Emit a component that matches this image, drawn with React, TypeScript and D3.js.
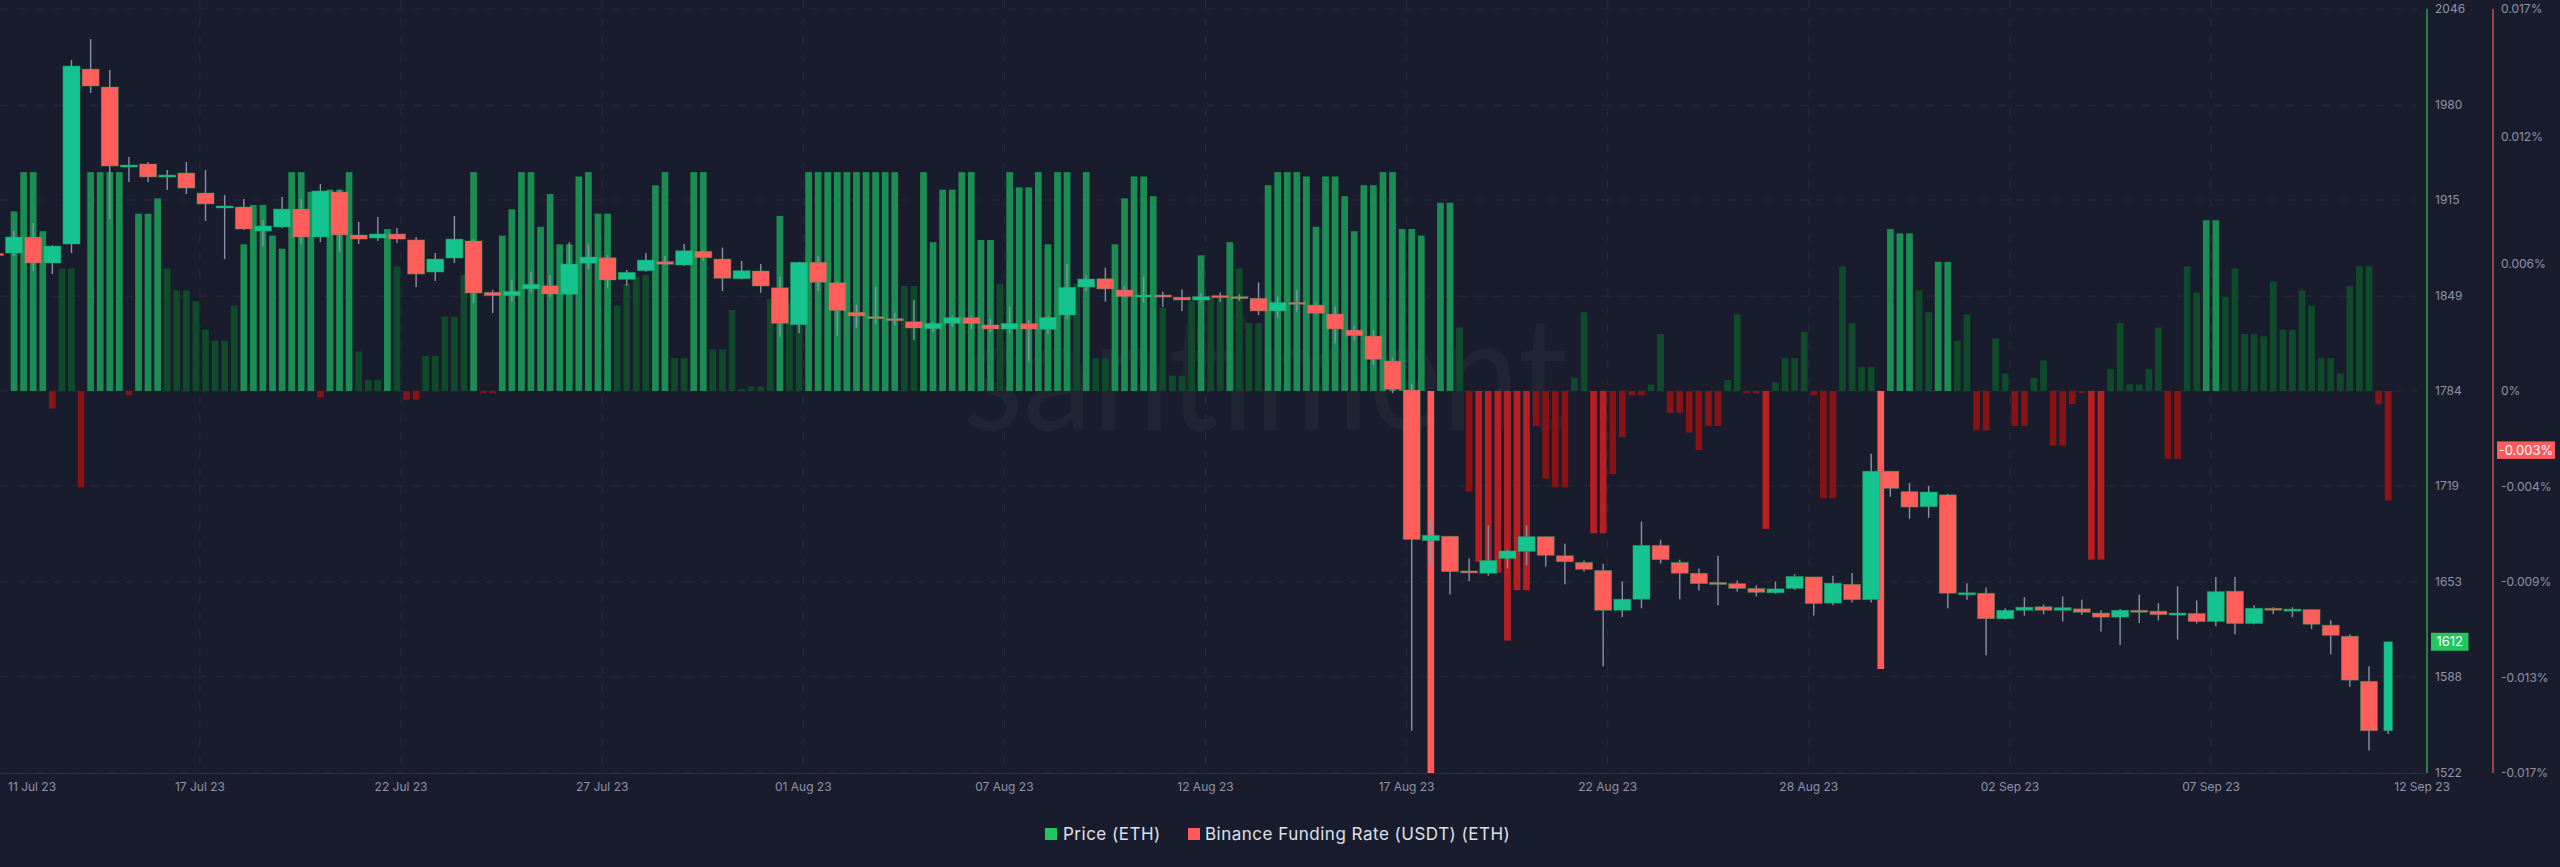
import * as d3 from 'd3';

// ETH 12h candles + Binance funding rate (6h), Santiment dark theme

const W = 2560;
const H = 867;

const candleStart = Date.UTC(2023, 6, 11, 18);
const CANDLE_STEP = 12 * 3600 * 1000;
const fundingStart = Date.UTC(2023, 6, 12, 6);
const FUNDING_STEP = 6 * 3600 * 1000;

const opens = [
  1878.3, 1878.6, 1889.6, 1871.8, 1884.8, 2004.8, 1992.5, 1938.3, 1939.7, 1931.5,
  1933.5, 1919.8, 1910.2, 1910.2, 1893.7, 1896.5, 1908.8, 1889.6, 1920.5, 1891.0,
  1888.9, 1891.7, 1887.6, 1865.6, 1875.2, 1886.9, 1851.7, 1849.4, 1854.0, 1856.2,
  1850.3, 1871.6, 1875.4, 1860.6, 1866.5, 1872.7, 1870.4, 1879.8, 1874.5, 1861.0,
  1866.3, 1854.8, 1829.5, 1872.3, 1858.3, 1838.0, 1835.0, 1833.6, 1831.5, 1826.7,
  1830.4, 1834.3, 1829.3, 1826.5, 1830.2, 1826.3, 1836.1, 1855.3, 1861.0, 1853.3,
  1848.7, 1849.8, 1848.3, 1846.4, 1849.4, 1848.7, 1847.6, 1838.9, 1844.8, 1843.0,
  1836.8, 1825.8, 1821.7, 1804.6, 1784.7, 1681.4, 1684.4, 1660.6, 1659.0, 1669.1,
  1674.0, 1684.1, 1671.0, 1666.4, 1660.9, 1633.6, 1641.2, 1678.1, 1666.4, 1659.0,
  1652.7, 1651.9, 1648.6, 1645.6, 1648.6, 1656.5, 1638.5, 1651.4, 1640.9, 1729.0,
  1715.0, 1704.6, 1712.8, 1645.0, 1645.3, 1627.8, 1633.6, 1636.0, 1633.6, 1634.6,
  1631.7, 1628.9, 1633.6, 1633.0, 1631.1, 1631.4, 1625.9, 1646.7, 1624.5, 1635.0,
  1633.9, 1634.1, 1623.4, 1615.8, 1584.9, 1551.0,
];
const highs = [
  1879.3, 1893.7, 1899.2, 1884.1, 2011.0, 2025.4, 2004.2, 1944.5, 1941.1, 1935.6,
  1941.1, 1935.6, 1918.4, 1915.7, 1901.3, 1917.1, 1915.7, 1926.0, 1921.9, 1899.9,
  1903.3, 1895.8, 1889.6, 1878.6, 1904.0, 1888.2, 1853.3, 1860.1, 1865.8, 1863.6,
  1886.0, 1884.6, 1877.3, 1867.0, 1878.4, 1876.6, 1884.8, 1880.7, 1882.3, 1873.2,
  1871.1, 1862.4, 1872.7, 1876.6, 1859.6, 1843.0, 1855.5, 1837.7, 1846.4, 1831.1,
  1835.6, 1835.6, 1833.4, 1841.8, 1832.7, 1835.4, 1871.1, 1863.1, 1868.6, 1856.2,
  1862.4, 1852.1, 1853.7, 1851.0, 1851.7, 1850.3, 1858.5, 1848.7, 1853.3, 1844.8,
  1841.8, 1828.6, 1825.8, 1806.4, 1788.8, 1696.4, 1684.4, 1669.1, 1691.8, 1675.1,
  1691.8, 1684.1, 1679.2, 1667.7, 1665.6, 1653.5, 1694.5, 1681.9, 1668.3, 1662.3,
  1671.0, 1654.1, 1650.8, 1653.3, 1658.4, 1656.5, 1657.3, 1659.2, 1741.0, 1729.0,
  1721.0, 1718.8, 1713.6, 1652.2, 1649.2, 1635.0, 1642.6, 1637.6, 1643.1, 1640.9,
  1633.6, 1634.4, 1644.5, 1638.5, 1650.0, 1640.4, 1656.5, 1656.5, 1637.1, 1635.7,
  1635.7, 1634.1, 1626.7, 1617.1, 1595.3, 1612.0,
];
const lows = [
  1876.6, 1876.6, 1866.3, 1864.2, 1878.6, 1988.4, 1902.0, 1927.3, 1927.3, 1921.9,
  1919.1, 1900.6, 1874.5, 1894.4, 1883.4, 1895.8, 1884.8, 1886.2, 1879.3, 1884.8,
  1886.9, 1885.5, 1855.3, 1859.4, 1871.8, 1844.4, 1837.5, 1845.2, 1851.7, 1848.7,
  1849.8, 1867.7, 1854.8, 1856.2, 1865.8, 1870.4, 1869.9, 1873.4, 1852.6, 1860.6,
  1851.4, 1821.2, 1823.6, 1852.8, 1821.9, 1827.4, 1830.0, 1829.3, 1819.0, 1824.3,
  1828.1, 1826.5, 1824.3, 1823.6, 1804.1, 1823.6, 1833.4, 1852.6, 1845.2, 1848.3,
  1844.6, 1841.8, 1838.9, 1845.2, 1845.2, 1845.9, 1836.1, 1834.3, 1838.4, 1836.6,
  1816.7, 1818.5, 1801.8, 1782.4, 1551.0, 1665.0, 1644.5, 1653.5, 1657.3, 1662.3,
  1664.5, 1663.6, 1651.4, 1660.1, 1595.3, 1628.9, 1635.0, 1665.6, 1641.2, 1647.2,
  1637.1, 1646.4, 1643.1, 1645.0, 1647.5, 1630.0, 1637.1, 1639.0, 1639.0, 1711.5,
  1696.4, 1697.0, 1635.0, 1640.9, 1602.7, 1627.3, 1630.0, 1630.8, 1625.9, 1630.3,
  1619.0, 1609.8, 1624.8, 1626.7, 1613.6, 1624.5, 1622.6, 1617.1, 1624.0, 1630.8,
  1628.9, 1620.7, 1603.5, 1581.1, 1537.4, 1548.8,
];
const closes = [
  1877.3, 1889.6, 1871.8, 1883.4, 2006.9, 1993.2, 1938.3, 1939.0, 1930.8, 1932.1,
  1923.2, 1912.3, 1910.9, 1895.1, 1897.2, 1908.8, 1889.6, 1921.2, 1891.0, 1888.2,
  1891.7, 1888.2, 1864.2, 1874.5, 1888.2, 1851.2, 1849.4, 1852.4, 1857.2, 1850.5,
  1871.1, 1875.9, 1860.1, 1865.4, 1873.8, 1870.9, 1880.2, 1875.4, 1861.3, 1866.5,
  1856.0, 1830.4, 1872.3, 1858.5, 1839.1, 1835.4, 1834.5, 1832.9, 1827.2, 1830.4,
  1834.3, 1830.2, 1826.5, 1830.4, 1826.5, 1834.5, 1855.1, 1860.8, 1854.0, 1848.7,
  1849.8, 1848.7, 1846.4, 1848.7, 1848.3, 1848.0, 1838.9, 1844.8, 1843.7, 1837.3,
  1826.5, 1821.9, 1805.7, 1785.2, 1682.2, 1685.0, 1660.1, 1660.1, 1667.7, 1674.3,
  1684.1, 1671.3, 1666.9, 1661.7, 1633.6, 1641.2, 1678.1, 1668.3, 1659.0, 1651.9,
  1652.2, 1648.6, 1645.9, 1648.3, 1656.8, 1638.2, 1652.2, 1640.9, 1729.0, 1717.2,
  1704.4, 1714.7, 1645.3, 1645.6, 1627.8, 1633.6, 1635.7, 1633.6, 1635.4, 1632.2,
  1628.9, 1633.6, 1632.8, 1630.6, 1631.7, 1625.9, 1646.4, 1624.5, 1635.0, 1633.9,
  1634.4, 1624.0, 1616.4, 1585.7, 1551.0, 1612.0,
];

// funding rate, in percent
const fundingRates = [
  0.0082, 0.01, 0.01, 0.0073, -0.0008, 0.0056, 0.0056, -0.0044, 0.01, 0.01,
  0.01, 0.01, -0.0002, 0.0081, 0.0081, 0.0088, 0.0056, 0.0046, 0.0046, 0.0041,
  0.0028, 0.0023, 0.0023, 0.0039, 0.0067, 0.0085, 0.0085, 0.0071, 0.0065, 0.01,
  0.01, 0.0091, -0.0003, 0.0092, 0.0092, 0.01, 0.0018, 0.0005, 0.0005, 0.0074,
  0.0057, -0.0004, -0.0004, 0.0016, 0.0016, 0.0034, 0.0034, 0.0053, 0.01, -0.0001,
  -0.0001, 0.0071, 0.0083, 0.01, 0.01, 0.0075, 0.009, 0.0067, 0.0067, 0.0098,
  0.01, 0.0081, 0.0081, 0.0039, 0.0049, 0.0052, 0.0053, 0.0094, 0.01, 0.0015,
  0.0015, 0.01, 0.01, 0.0019, 0.0019, 0.0037, 0.0001, 0.0002, 0.0002, 0.0042,
  0.008, 0.004, 0.004, 0.01, 0.01, 0.01, 0.01, 0.01, 0.01, 0.01,
  0.01, 0.01, 0.01, 0.0048, 0.0048, 0.01, 0.0068, 0.0092, 0.0092, 0.01,
  0.01, 0.0069, 0.0069, 0.0049, 0.01, 0.0093, 0.0093, 0.01, 0.0067, 0.01,
  0.01, 0.0049, 0.01, 0.0015, 0.0015, 0.0067, 0.0088, 0.0098, 0.0098, 0.0089,
  0.0038, 0.0007, 0.0007, 0.0041, 0.0062, 0.0043, 0.0043, 0.0068, 0.0056, 0.0031,
  0.0031, 0.0094, 0.01, 0.01, 0.01, 0.0098, 0.0075, 0.0098, 0.0098, 0.0089,
  0.0073, 0.0094, 0.0094, 0.01, 0.01, 0.0074, 0.0074, 0.0071, -0.0175, 0.0086,
  0.0086, 0.0029, -0.0046, -0.0078, -0.0079, -0.0083, -0.0114, -0.0091, -0.0091, -0.0016,
  -0.004, -0.0044, -0.0044, 0.0006, 0.0036, -0.0065, -0.0065, -0.0038, -0.0021, -0.0002,
  -0.0002, 0.0003, 0.0026, -0.001, -0.001, -0.0019, -0.0027, -0.0016, -0.0016, 0.0005,
  0.0035, -0.0001, -0.0001, -0.0063, 0.0004, 0.0015, 0.0015, 0.0027, -0.0002, -0.0049,
  -0.0049, 0.0057, 0.0031, 0.0011, 0.0011, -0.0127, 0.0074, 0.0072, 0.0072, 0.0046,
  0.0036, 0.0059, 0.0059, 0.0023, 0.0035, -0.0018, -0.0018, 0.0024, 0.0008, -0.0016,
  -0.0016, 0.0006, 0.0014, -0.0025, -0.0025, -0.0006, -0.0001, -0.0077, -0.0077, 0.001,
  0.0031, 0.0003, 0.0003, 0.001, 0.0029, -0.0031, -0.0031, 0.0057, 0.0045, 0.0078,
  0.0078, 0.0043, 0.0056, 0.0026, 0.0026, 0.0025, 0.005, 0.0028, 0.0028, 0.0046,
  0.0039, 0.0015, 0.0015, 0.0008, 0.0048, 0.0057, 0.0057, -0.0006, -0.005,
];

const latestPrice = 1612;
const latestFundingRate = -0.0027;

const priceTicks = [1522, 1588, 1653, 1719, 1784, 1849, 1915, 1980, 2046];
const FUND_MAX = 0.01745;
const fundingTicks = [FUND_MAX, 0.01163, 0.00582, 0, -0.00436, -0.00873, -0.01309, -FUND_MAX];
const fundingTickLabels = ['0.017%', '0.012%', '0.006%', '0%', '-0.004%', '-0.009%', '-0.013%', '-0.017%'];

const xTickDates = [
  '2023-07-17T02:31Z', '2023-07-22T08:34Z', '2023-07-27T14:37Z', '2023-08-01T20:40Z',
  '2023-08-07T02:43Z', '2023-08-12T08:46Z', '2023-08-17T14:48Z', '2023-08-22T20:51Z',
  '2023-08-28T02:54Z', '2023-09-02T08:57Z', '2023-09-07T15:00Z',
];
const rangeStartLabel = '11 Jul 23';
const rangeEndLabel = '12 Sep 23';

const legendItems = [
  { label: 'Price (ETH)', color: '#22c55e' },
  { label: 'Binance Funding Rate (USDT) (ETH)', color: '#ff5b5b' },
];

const BG = '#191c2c';
const GRID = '#272b3e';
const AXIS_TEXT = '#8d93a8';
const CANDLE_UP = '#14c38e';
const CANDLE_DOWN = '#ff5e5b';
const WICK = '#8a90a8';
const FONT = "Inter, 'Noto Sans', sans-serif";

const PLOT_TOP = 9;
const PLOT_BOTTOM = 773;
const PRICE_AXIS_X = 2427;
const FUNDING_AXIS_X = 2493;

function fundingColor(v: number) {
  const a = Math.abs(v);
  if (v >= 0) return a >= FUND_MAX / 3 ? '#1b8d53' : '#0f4a2a';
  if (a >= (FUND_MAX * 2) / 3) return '#ff5b5b';
  return a >= FUND_MAX / 3 ? '#b81f23' : '#871315';
}

export default function App() {
  const candles = opens.map((o, i) => ({
    t: new Date(candleStart + i * CANDLE_STEP),
    o,
    h: highs[i],
    l: lows[i],
    c: closes[i],
  }));
  const funding = fundingRates.map((v, i) => ({
    t: new Date(fundingStart + i * FUNDING_STEP),
    v,
  }));

  const x = d3
    .scaleUtc()
    .domain([candles[0].t, candles[candles.length - 1].t])
    .range([-5.1, -5.1 + (candles.length - 1) * 19.146]);
  const yPrice = d3.scaleLinear().domain([1522, 2046]).range([PLOT_BOTTOM, PLOT_TOP]);
  const yFund = d3.scaleLinear().domain([-FUND_MAX, FUND_MAX]).range([PLOT_BOTTOM, PLOT_TOP]);

  const candleStepPx = x(new Date(candleStart + CANDLE_STEP)) - x(new Date(candleStart));
  const bodyW = candleStepPx * 0.89;
  const barW = candleStepPx * 0.35;
  const zeroY = yFund(0);
  const fmt = d3.utcFormat('%d %b %y');

  return (
    <>
      <style>{`body{margin:0;background:${BG};}`}</style>
      <svg width={W} height={H} style={{ display: 'block', background: BG, fontFamily: FONT }}>
        <defs>
          <clipPath id="plot-clip">
            <rect x={0} y={0} width={2420} height={PLOT_BOTTOM} />
          </clipPath>
        </defs>

        {/* watermark */}
        <text
          x={963}
          y={430}
          fontSize={160}
          fontFamily="Lato, 'Open Sans', sans-serif"
          fill="#ffffff"
          fillOpacity={0.035}
          textLength={605}
          lengthAdjust="spacingAndGlyphs"
        >
          santiment
        </text>

        {/* grid */}
        {priceTicks.map((p) => (
          <line
            key={'h' + p}
            x1={0}
            x2={2417}
            y1={yPrice(p)}
            y2={yPrice(p)}
            stroke={GRID}
            strokeDasharray="8,10"
          />
        ))}
        {xTickDates.map((s) => {
          const px = x(new Date(s));
          return (
            <line key={'v' + s} x1={px} x2={px} y1={0} y2={PLOT_BOTTOM} stroke={GRID} strokeDasharray="8,10" />
          );
        })}
        <line x1={0} x2={PRICE_AXIS_X} y1={PLOT_BOTTOM + 0.5} y2={PLOT_BOTTOM + 0.5} stroke="#2a2e41" />

        <g clipPath="url(#plot-clip)">
          {/* funding bars */}
          {funding.map((d, i) => {
            const yv = yFund(d.v);
            const h = Math.max(Math.abs(yv - zeroY), 2);
            return (
              <rect
                key={'f' + i}
                x={x(d.t) - barW / 2}
                y={d.v >= 0 ? zeroY - h : zeroY}
                width={barW}
                height={h}
                fill={fundingColor(d.v)}
              />
            );
          })}

          {/* candles */}
          {candles.map((d, i) => {
            const cx = x(d.t);
            const last = i === candles.length - 1;
            const w = last ? bodyW / 2 : bodyW;
            const up = d.c >= d.o;
            const top = yPrice(Math.max(d.o, d.c));
            const bot = yPrice(Math.min(d.o, d.c));
            return (
              <g key={'c' + i}>
                <line x1={cx} x2={cx} y1={yPrice(d.h)} y2={yPrice(d.l)} stroke={WICK} strokeWidth={1.4} />
                <rect
                  x={cx - w / 2}
                  y={top}
                  width={w}
                  height={Math.max(bot - top, 2)}
                  fill={up ? CANDLE_UP : CANDLE_DOWN}
                  stroke="#2a9a5c"
                  strokeOpacity={0.55}
                  strokeWidth={0.8}
                />
              </g>
            );
          })}
        </g>

        {/* axes lines */}
        <line x1={PRICE_AXIS_X} x2={PRICE_AXIS_X} y1={PLOT_TOP} y2={PLOT_BOTTOM} stroke="#22c55e" strokeWidth={1.2} />
        <line x1={FUNDING_AXIS_X} x2={FUNDING_AXIS_X} y1={PLOT_TOP} y2={PLOT_BOTTOM} stroke="#f45b5b" strokeWidth={1.2} />

        {/* price axis labels */}
        {priceTicks.map((p) => (
          <text key={'pl' + p} x={2435} y={yPrice(p)} dy="0.35em" fontSize={12} fill={AXIS_TEXT}>
            {p}
          </text>
        ))}
        {/* funding axis labels */}
        {fundingTicks.map((v, i) => (
          <text key={'fl' + i} x={2501} y={yFund(v)} dy="0.35em" fontSize={12} fill={AXIS_TEXT}>
            {fundingTickLabels[i]}
          </text>
        ))}

        {/* latest value badges */}
        <rect x={2431} y={yPrice(latestPrice) - 9} width={37.5} height={18} fill="#22c55e" />
        <text x={2449.7} y={yPrice(latestPrice)} dy="0.36em" fontSize={13} fill="#ffffff" textAnchor="middle">
          {latestPrice}
        </text>
        <rect x={2497} y={yFund(latestFundingRate) - 8.7} width={58} height={17.5} fill="#ff5b5b" />
        <text x={2526} y={yFund(latestFundingRate)} dy="0.36em" fontSize={13} fill="#ffffff" textAnchor="middle">
          {latestFundingRate.toFixed(3)}%
        </text>

        {/* x axis labels */}
        <text x={8} y={787} dy="0.35em" fontSize={12} fill={AXIS_TEXT}>
          {rangeStartLabel}
        </text>
        {xTickDates.map((s) => (
          <text key={'xl' + s} x={x(new Date(s))} y={787} dy="0.35em" fontSize={12} fill={AXIS_TEXT} textAnchor="middle">
            {fmt(new Date(s))}
          </text>
        ))}
        <text x={2450} y={787} dy="0.35em" fontSize={12} fill={AXIS_TEXT} textAnchor="end">
          {rangeEndLabel}
        </text>

        {/* legend */}
        <g transform="translate(1045, 834)">
          <rect x={0} y={-6} width={12} height={12} fill={legendItems[0].color} />
          <text x={18} y={0} dy="0.35em" fontSize={17} letterSpacing={0.5} fill="#dfe2ea">
            {legendItems[0].label}
          </text>
          <rect x={143} y={-6} width={12} height={12} fill={legendItems[1].color} />
          <text x={160} y={0} dy="0.35em" fontSize={17} letterSpacing={0.5} fill="#dfe2ea">
            {legendItems[1].label}
          </text>
        </g>
      </svg>
    </>
  );
}
